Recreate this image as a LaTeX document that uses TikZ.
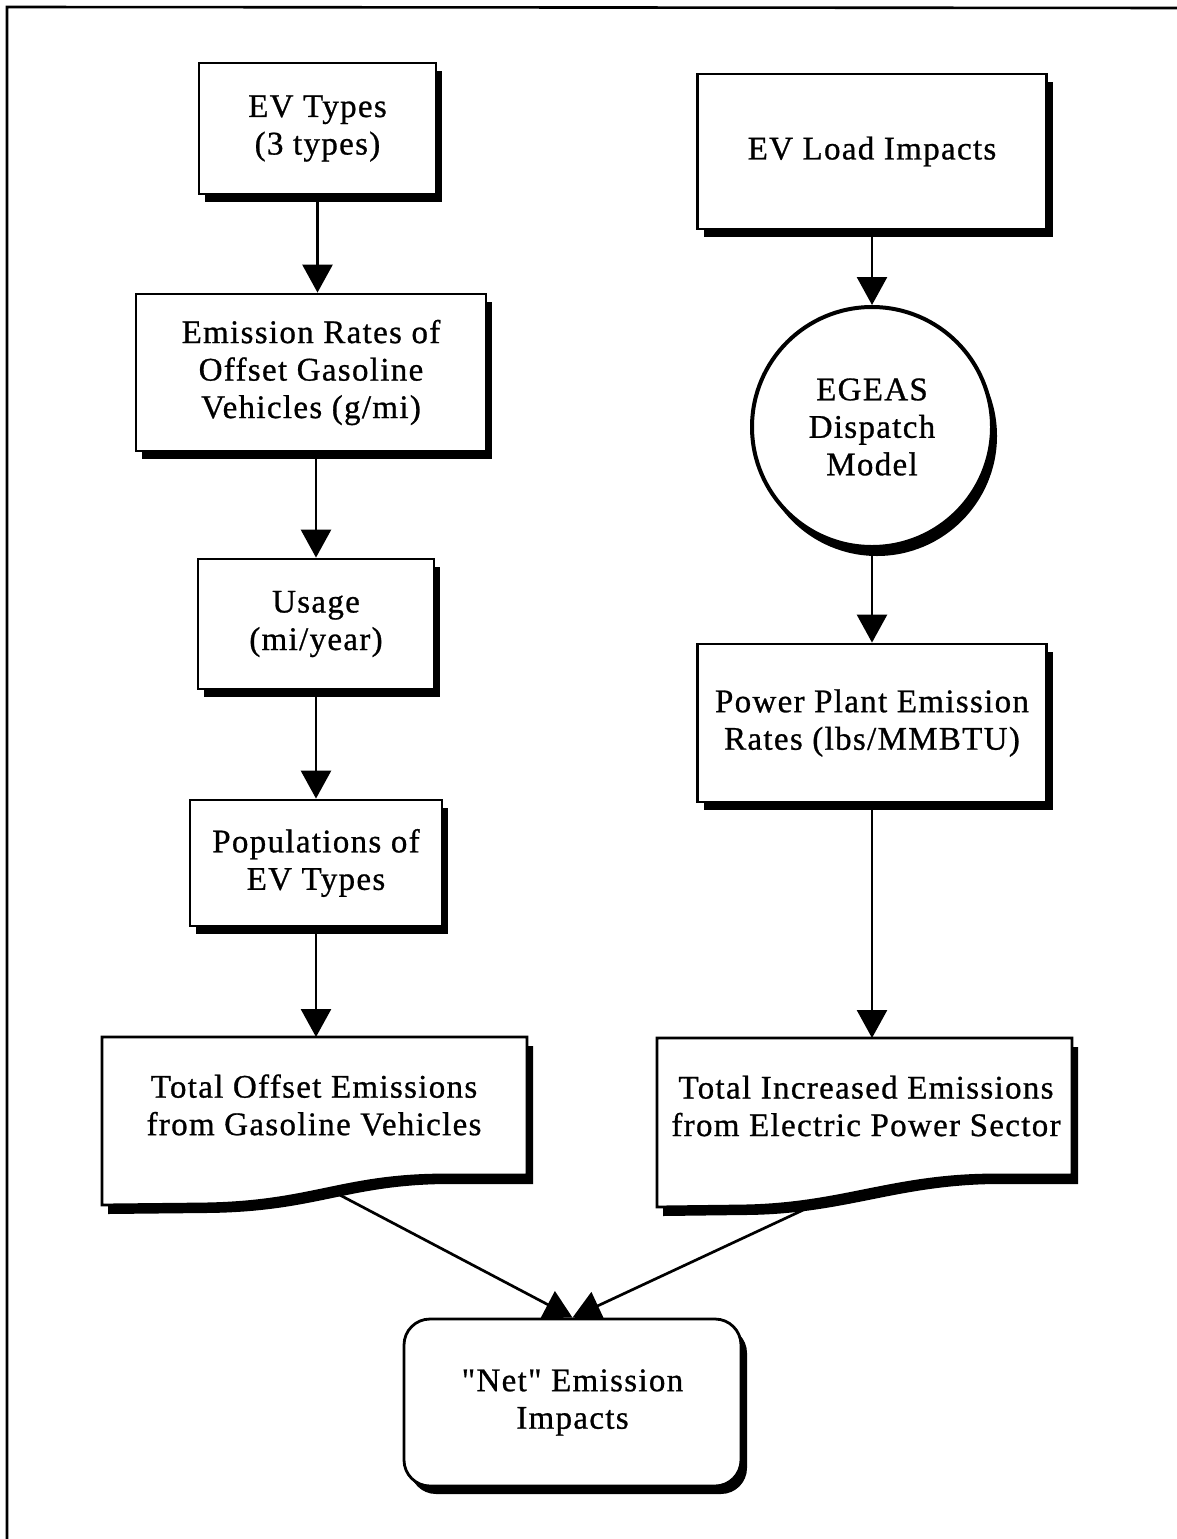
\documentclass[tikz,border=0pt]{standalone}
\usepackage{fontspec}
\setmainfont[LetterSpace=4,Ligatures=TeXOff,FakeBold=0.8]{Liberation Serif}
\usetikzlibrary{arrows.meta,shadows,calc}
\newcommand\diafs{\fontsize{33}{37.5}\selectfont}
\begin{document}
\begin{tikzpicture}[x=1pt,y=-1pt,
  shad/.style={drop shadow={shadow xshift=6pt, shadow yshift=-8pt, fill=black, opacity=1}},
  box/.style={draw, line width=2.8pt, fill=white, align=center, font=\diafs, inner sep=0pt, shad},
  txt/.style={align=center, font=\diafs, inner sep=0pt},
  conn/.style={line width=2.7pt, -{Triangle[width=30pt,length=28pt]}},
  docline/.style={draw, line width=2.8pt, fill=white, line join=miter}
]
\useasboundingbox (0,0) rectangle (1176,1539);
% outer frame (left and top edges visible)
\draw[line width=2.6pt] (7,1560) -- (7,7) -- (1190,8);

% left column
\node[box, minimum width=237pt, minimum height=131pt] (b1) at (317.5,128.5) {EV Types\\(3 types)};
\node[box, minimum width=350pt, minimum height=157pt] (b2) at (311,372.5) {Emission Rates of\\Offset Gasoline\\Vehicles (g/mi)};
\node[box, minimum width=236pt, minimum height=130pt] (b3) at (316,624) {Usage\\(mi/year)};
\node[box, minimum width=252pt, minimum height=126pt] (b4) at (316,863) {Populations of\\EV Types};

% left document shape
\fill[black, shift={(6,9)}] (102,1037) -- (527,1037) -- (527,1175) -- (440,1175)
   .. controls (340,1176) and (310,1203) .. (200,1204) -- (102,1205) -- cycle;
\path[docline] (102,1037) -- (527,1037) -- (527,1175) -- (440,1175)
   .. controls (340,1176) and (310,1203) .. coordinate[pos=0.48] (w5) (200,1204) -- (102,1205) -- cycle;
\coordinate (b5top) at (316,1037);
\node[txt] (b5) at (314,1105) {Total Offset Emissions\\from Gasoline Vehicles};

% right column
\node[box, minimum width=349pt, minimum height=155pt] (r1) at (872,151.5) {EV Load Impacts};
\node[draw, circle, line width=4pt, fill=white, minimum size=240pt, inner sep=0pt, align=center, font=\diafs,
      drop shadow={shadow xshift=5pt, shadow yshift=-9pt, fill=black, opacity=1}] (circ) at (872,427) {EGEAS\\Dispatch\\Model};
\node[box, minimum width=349pt, minimum height=158pt] (r2) at (872,723) {Power Plant Emission\\Rates (lbs/MMBTU)};

% right document shape
\fill[black, shift={(6,9)}] (657,1038) -- (1072,1038) -- (1072,1175) -- (990,1175)
   .. controls (890,1176) and (840,1205) .. (740,1206) -- (657,1207) -- cycle;
\path[docline] (657,1038) -- (1072,1038) -- (1072,1175) -- (990,1175)
   .. controls (890,1176) and (840,1205) .. coordinate[pos=0.65] (w6) (740,1206) -- (657,1207) -- cycle;
\coordinate (r3top) at (872,1038);
\node[txt] (r3) at (866,1106) {Total Increased Emissions\\from Electric Power Sector};

% result
\node[box, rounded corners=26pt, minimum width=337pt, minimum height=167pt] (net) at (572.5,1402.5) {"Net" Emission\\Impacts};

% connectors
\draw[conn] (b1.south) -- (b1.south |- b2.north);
\draw[conn] (b2.south -| b3.north) -- (b3.north);
\draw[conn] (b3.south) -- (b3.south |- b4.north);
\draw[conn] (b4.south) -- (b4.south |- b5top);
\draw[conn] (r1.south) -- (circ.north);
\draw[conn] (circ.south) -- (circ.south |- r2.north);
\draw[conn] (r2.south) -- (r3top);
\draw[conn] (w5) -- (net.north);
\draw[conn] (w6) -- (net.north);
\end{tikzpicture}
\end{document}
